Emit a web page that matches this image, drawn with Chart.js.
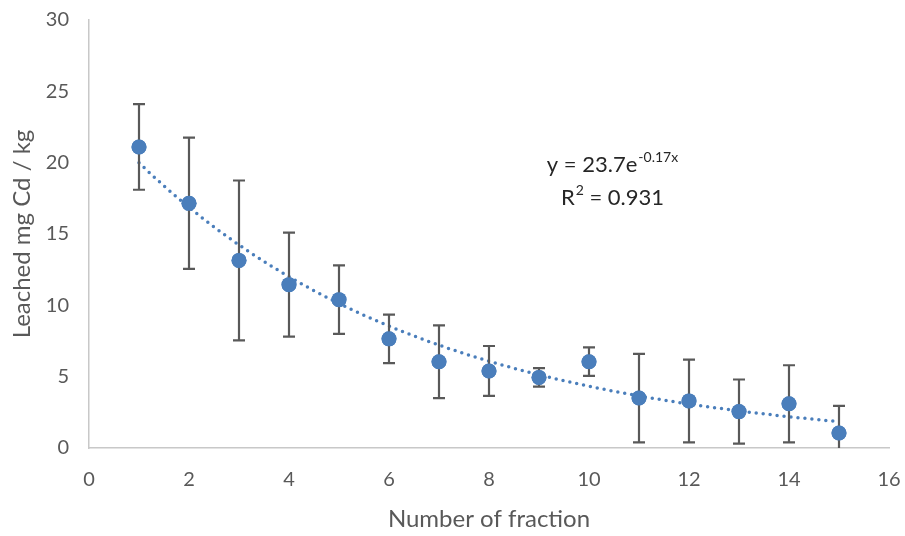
<!DOCTYPE html>
<html>
<head>
<meta charset="utf-8">
<script src="https://cdn.jsdelivr.net/npm/chart.js@4.4.1/dist/chart.umd.min.js"></script>
<style>
  html, body { margin: 0; padding: 0; background: #fff; }
  #wrap { width: 905px; height: 536px; }
</style>
</head>
<body>
<div id="wrap"><canvas id="myChart" width="905" height="536"></canvas></div>
<script>
// data
var fractions = [1, 2, 3, 4, 5, 6, 7, 8, 9, 10, 11, 12, 13, 14, 15];
var leached = [21.1, 17.15, 13.15, 11.45, 10.4, 7.65, 6.05, 5.4, 4.95, 6.05, 3.5, 3.3, 2.55, 3.1, 1.05];
var errors = [3.0, 4.6, 5.6, 3.65, 2.4, 1.7, 2.55, 1.75, 0.65, 1.0, 3.1, 2.9, 2.25, 2.7, 1.9];
var xTicks = [0, 2, 4, 6, 8, 10, 12, 14, 16];
var yTicks = [0, 5, 10, 15, 20, 25, 30];
// exponential trendline shown on the chart: y = 23.7 e^(-0.17 x)
var trendA = 23.7;
var trendB = -0.17;
var trendR2 = 0.931;

var blue = "#4a7ebb";
var grey = "#595959";
var font = "Lato, 'Open Sans', sans-serif";

var trend = [];
for (var x = fractions[0]; x <= fractions[fractions.length - 1] + 0.001; x += 0.25) {
  trend.push({ x: x, y: trendA * Math.exp(trendB * x) });
}

var points = fractions.map(function(f, i) { return { x: f, y: leached[i] }; });

// error bars, drawn through the scales
var errorBars = {
  id: "errorBars",
  afterDatasetsDraw: function(chart) {
    var ctx = chart.ctx;
    var xs = chart.scales.x, ys = chart.scales.y;
    var area = chart.chartArea;
    ctx.save();
    ctx.strokeStyle = grey;
    ctx.lineWidth = 2.2;
    for (var i = 0; i < fractions.length; i++) {
      var px = xs.getPixelForValue(fractions[i]);
      var top = ys.getPixelForValue(leached[i] + errors[i]);
      var lo = leached[i] - errors[i];
      var bot = ys.getPixelForValue(Math.max(lo, 0));
      ctx.beginPath();
      ctx.moveTo(px, top);
      ctx.lineTo(px, bot);
      ctx.moveTo(px - 6, top);
      ctx.lineTo(px + 6, top);
      if (lo >= 0) {
        ctx.moveTo(px - 6, bot);
        ctx.lineTo(px + 6, bot);
      }
      ctx.stroke();
    }
    ctx.restore();
    // redraw markers above the bars
    var meta = chart.getDatasetMeta(1);
    meta.data.forEach(function(el) { el.draw(ctx, area); });
  }
};

// trendline equation
var equation = {
  id: "equation",
  afterDraw: function(chart) {
    var ctx = chart.ctx;
    var cx = chart.scales.x.getPixelForValue(10.46);
    var cy = chart.scales.y.getPixelForValue(18.7);
    ctx.save();
    ctx.fillStyle = "#262626";
    ctx.textBaseline = "middle";
    var big = "22px " + font, small = "14px " + font;
    var s1 = "y = " + trendA + "e", s2 = trendB + "x";
    ctx.font = big; var w1 = ctx.measureText(s1).width;
    ctx.font = small; var w2 = ctx.measureText(s2).width;
    var x0 = cx - (w1 + w2) / 2;
    ctx.font = big; ctx.textAlign = "left";
    ctx.fillText(s1, x0, cy - 16);
    ctx.font = small;
    ctx.fillText(s2, x0 + w1 + 1, cy - 24);
    var r1 = "R", r2 = "2", r3 = " = " + trendR2;
    ctx.font = big; var a = ctx.measureText(r1).width, c = ctx.measureText(r3).width;
    ctx.font = small; var b = ctx.measureText(r2).width;
    x0 = cx - (a + b + c) / 2;
    ctx.font = big; ctx.fillText(r1, x0, cy + 17);
    ctx.font = small; ctx.fillText(r2, x0 + a + 1, cy + 9);
    ctx.font = big; ctx.fillText(r3, x0 + a + b + 1, cy + 17);
    ctx.restore();
  }
};

var ctx = document.getElementById("myChart").getContext("2d");
var myChart = new Chart(ctx, {
  type: "scatter",
  data: {
    datasets: [
      {
        label: "Trend",
        data: trend,
        showLine: true,
        borderColor: blue,
        borderWidth: 3.5,
        borderDash: [0, 7],
        borderCapStyle: "round",
        pointRadius: 0,
        fill: false
      },
      {
        label: "Leached Cd",
        data: points,
        backgroundColor: blue,
        borderColor: blue,
        pointRadius: 7.5,
        pointBorderWidth: 0
      }
    ]
  },
  options: {
    responsive: false,
    animation: false,
    layout: { padding: 0 },
    plugins: {
      legend: { display: false },
      tooltip: { enabled: false }
    },
    scales: {
      x: {
        type: "linear",
        min: xTicks[0],
        max: xTicks[xTicks.length - 1],
        afterBuildTicks: function(axis) { axis.ticks = xTicks.map(function(v) { return { value: v }; }); },
        afterFit: function(axis) { axis.height = 88; axis.paddingRight = 16; axis.paddingLeft = 0; },
        grid: { display: false, drawTicks: false },
        border: { display: true, color: "#c8c8c8", width: 1.5 },
        ticks: { color: grey, padding: 20, font: { family: font, size: 20 } },
        title: {
          display: true,
          text: "Number of fraction",
          color: grey,
          padding: { top: 4, bottom: 2 },
          font: { family: font, size: 24 }
        }
      },
      y: {
        type: "linear",
        min: yTicks[0],
        max: yTicks[yTicks.length - 1],
        afterBuildTicks: function(axis) { axis.ticks = yTicks.map(function(v) { return { value: v }; }); },
        afterFit: function(axis) { axis.width = 89; axis.paddingTop = 20; axis.paddingBottom = 0; },
        grid: { display: false, drawTicks: false },
        border: { display: true, color: "#c8c8c8", width: 1.5 },
        ticks: { color: grey, padding: 20, font: { family: font, size: 20 } },
        title: {
          display: true,
          text: "Leached mg Cd / kg",
          color: grey,
          padding: { top: 8, bottom: 0 },
          font: { family: font, size: 24 }
        }
      }
    }
  },
  plugins: [errorBars, equation]
});
</script>
</body>
</html>
